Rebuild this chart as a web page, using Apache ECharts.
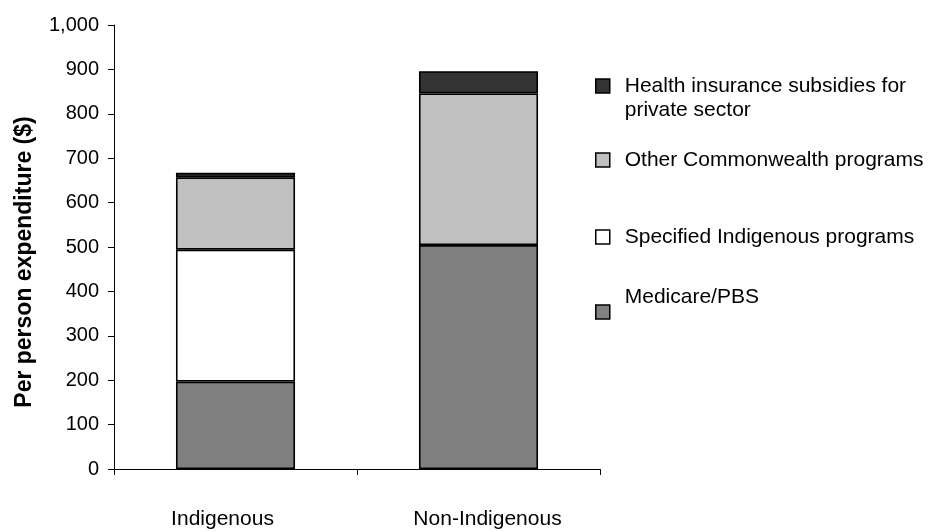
<!DOCTYPE html>
<html>
<head>
<meta charset="utf-8">
<script src="https://cdn.jsdelivr.net/npm/echarts@6/dist/echarts.min.js"></script>
<style>
html,body{margin:0;padding:0;background:#fff;}
#chart{width:929px;height:532px;}
</style>
</head>
<body>
<div id="chart"></div>
<script>
const categories = ['Indigenous', 'Non-Indigenous'];
const medicarePBS = [197, 504];
const specifiedIndigenous = [297, 0];
const otherCommonwealth = [163, 342];
const healthInsurance = [10, 50];
const yTicks = { min: 0, max: 1000, interval: 100 };

const FONT = '"Liberation Sans", Arial, Helvetica, sans-serif';
const chart = echarts.init(document.getElementById('chart'), null, { renderer: 'canvas' });

function mkSeries(name, data, color) {
  return {
    name: name,
    type: 'bar',
    stack: 'total',
    data: data,
    barWidth: '49%',
    itemStyle: { color: color, borderColor: '#000', borderWidth: 1.6 },
    emphasis: { disabled: true }
  };
}

const legendText = {
  'Health insurance subsidies for private sector': '\nHealth insurance subsidies for\nprivate sector',
  'Other Commonwealth programs': 'Other Commonwealth programs',
  'Specified Indigenous programs': 'Specified Indigenous programs',
  'Medicare/PBS': 'Medicare/PBS\n'
};

function mkLegend(name, top, lineHeight) {
  return {
    data: [name],
    left: 595,
    top: top,
    orient: 'vertical',
    icon: 'rect',
    itemWidth: 14,
    itemHeight: 14,
    padding: 0,
    selectedMode: false,
    formatter: function (n) { return legendText[n]; },
    itemStyle: { borderColor: '#000', borderWidth: 1.5 },
    textStyle: {
      fontFamily: FONT, fontSize: 21, color: '#000',
      lineHeight: lineHeight, padding: [0, 0, 0, 10]
    }
  };
}

const option = {
  backgroundColor: '#fff',
  animation: false,
  grid: { left: 114, right: 329, top: 25, bottom: 63, containLabel: false },
  legend: [
    mkLegend('Health insurance subsidies for private sector', 50, 24),
    mkLegend('Other Commonwealth programs', 148, 24),
    mkLegend('Specified Indigenous programs', 225, 24),
    mkLegend('Medicare/PBS', 282, 30)
  ],
  xAxis: {
    type: 'category',
    data: categories,
    boundaryGap: true,
    axisLine: { lineStyle: { color: '#000', width: 1 } },
    axisTick: { show: true, length: 6, lineStyle: { color: '#000' } },
    axisLabel: {
      margin: 40, fontFamily: FONT, fontSize: 21, color: '#000',
      formatter: function (v, i) { return i === 0 ? '{a|' + v + '}' : '{b|' + v + '}'; },
      rich: {
        a: { fontFamily: FONT, fontSize: 21, color: '#000', padding: [0, 26, 0, 0] },
        b: { fontFamily: FONT, fontSize: 21, color: '#000', padding: [0, 0, 0, 18] }
      }
    }
  },
  yAxis: {
    type: 'value',
    min: yTicks.min,
    max: yTicks.max,
    interval: yTicks.interval,
    name: 'Per person expenditure ($)',
    nameLocation: 'middle',
    nameGap: 78,
    nameRotate: 90,
    nameTextStyle: {
      fontFamily: FONT, fontSize: 23, fontWeight: 'bold', color: '#000',
      padding: [0, 30, 0, 0]
    },
    axisLine: { show: true, lineStyle: { color: '#000', width: 1 } },
    axisTick: { show: true, length: 6, inside: false, lineStyle: { color: '#000' } },
    splitLine: { show: false },
    axisLabel: {
      margin: 15, fontFamily: FONT, fontSize: 20, color: '#000',
      formatter: function (v) { return v.toLocaleString('en-US'); }
    }
  },
  series: [
    mkSeries('Medicare/PBS', medicarePBS, '#808080'),
    mkSeries('Specified Indigenous programs', specifiedIndigenous, '#ffffff'),
    mkSeries('Other Commonwealth programs', otherCommonwealth, '#c0c0c0'),
    mkSeries('Health insurance subsidies for private sector', healthInsurance, '#333333')
  ]
};
chart.setOption(option);
</script>
</body>
</html>
